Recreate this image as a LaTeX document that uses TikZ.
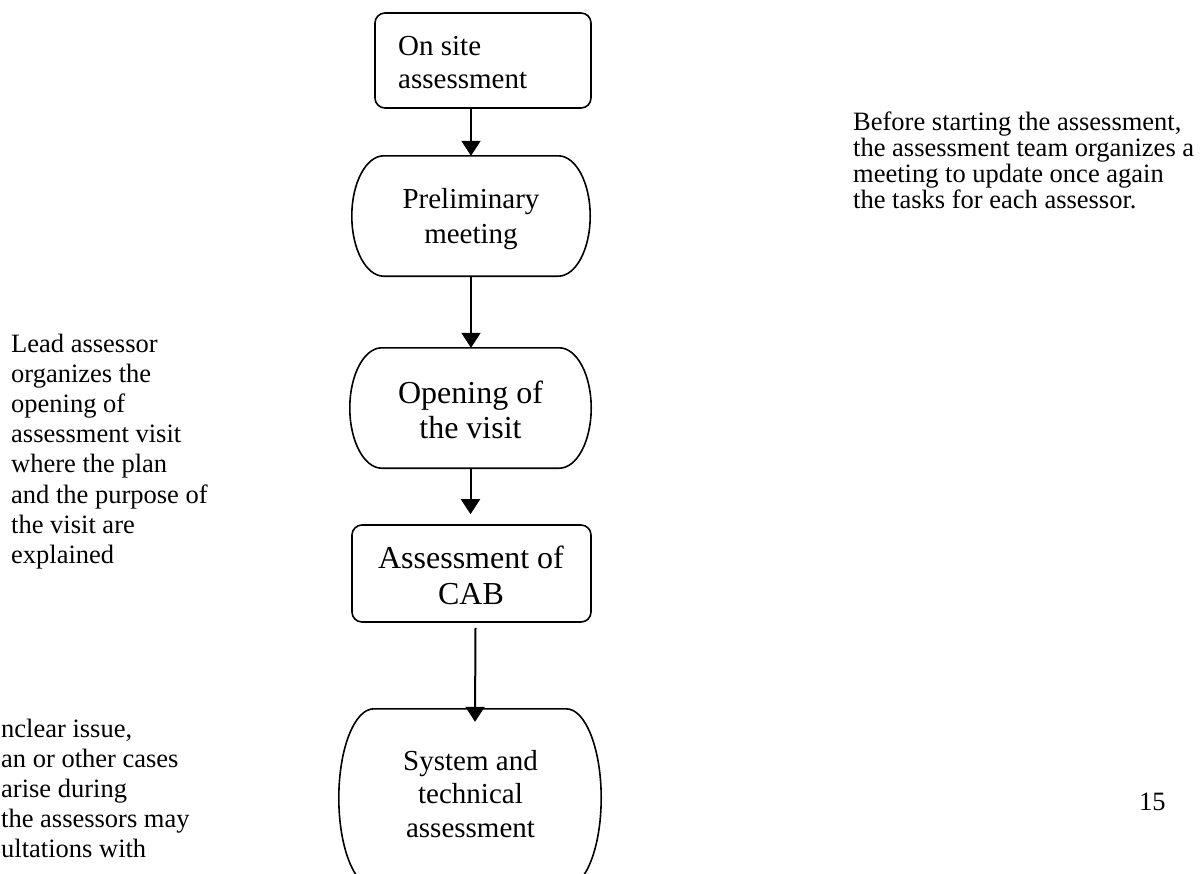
\documentclass[tikz,border=0pt]{standalone}
\usepackage{fontspec}
\setmainfont{Liberation Serif}
\usetikzlibrary{arrows.meta,calc}
\newcommand\txtblock[4]{{\fontsize{#2}{#3}\selectfont\begin{tabular}[t]{@{}#1@{}}#4\end{tabular}}}
\newcommand\ovalpath[2]{%
 \draw[shapeline] ([xshift=#2]#1.north west) -- ([xshift=-#2]#1.north east)
   .. controls ([xshift=-0.4477*#2]#1.north east) and ($(#1.east)!0.5523!(#1.north east)$) .. (#1.east)
   .. controls ($(#1.east)!0.5523!(#1.south east)$) and ([xshift=-0.4477*#2]#1.south east) .. ([xshift=-#2]#1.south east)
   -- ([xshift=#2]#1.south west)
   .. controls ([xshift=0.4477*#2]#1.south west) and ($(#1.west)!0.5523!(#1.south west)$) .. (#1.west)
   .. controls ($(#1.west)!0.5523!(#1.north west)$) and ([xshift=0.4477*#2]#1.north west) .. cycle;}
\begin{document}
\begin{tikzpicture}[x=1pt,y=-1pt,
  shapeline/.style={line width=1.6pt},
  rbox/.style={draw, line width=1.6pt, rounded corners=10pt, inner sep=0pt},
  obox/.style={inner sep=0pt},
  lbl/.style={inner sep=0pt},
  arr/.style={line width=2pt, -{Triangle[length=15pt,width=19pt]}}]
\useasboundingbox (0,0) rectangle (1204,873);
\clip (0,0) rectangle (1204,873);
% shapes
\node[rbox, minimum width=216pt, minimum height=95pt] (n1) at (483,60.5) {};
\node[obox, minimum width=238pt, minimum height=120pt] (n2) at (471,216) {};
\node[obox, minimum width=241pt, minimum height=120pt] (n3) at (470.5,408) {};
\node[rbox, minimum width=239pt, minimum height=97pt] (n4) at (471.5,573.5) {};
\node[obox, minimum width=262pt, minimum height=178pt] (n5) at (470,798) {};
\ovalpath{n2}{32pt}
\ovalpath{n3}{32pt}
\ovalpath{n5}{35pt}
% texts in shapes
\node[lbl, anchor=base west] (t1) at (398,55) {\txtblock{l}{29}{33}{On site\\assessment}};
\node[lbl, anchor=base] (t2) at (471,208) {\txtblock{c}{29}{35}{Preliminary\\meeting}};
\node[lbl, anchor=base] (t3) at (470.5,403) {\txtblock{c}{32}{35}{Opening of\\the visit}};
\node[lbl, anchor=base] (t4) at (471,568) {\txtblock{c}{32}{36}{Assessment of\\CAB}};
\node[lbl, anchor=base] (t5) at (470.5,770) {\txtblock{c}{29}{33.5}{System and\\technical\\assessment}};
% connectors
\coordinate (e3) at ([yshift=10pt]n4.north);
\coordinate (s4) at ([xshift=4pt,yshift=-5pt]n4.south);
\coordinate (e4) at ([xshift=5pt,yshift=-13pt]n5.north);
\draw[arr] (n2.north |- n1.south) -- (n2.north);
\draw[arr] (n2.south) -- (n2.south |- n3.north);
\draw[arr] (n3.south) -- (n3.south |- e3);
\draw[arr] (s4) -- (e4);
% notes
\node[lbl, anchor=base west] (noteR) at (853,130) {\txtblock{l}{26.5}{25.5}{Before starting the assessment,\\the assessment team organizes a\\meeting to update once again\\the tasks for each assessor.}};
\node[lbl, anchor=base west] (noteL) at (11,352) {\txtblock{l}{26.5}{30.2}{Lead assessor\\organizes the\\opening of\\assessment visit\\where the plan\\and the purpose of\\the visit are\\explained}};
\node[lbl, anchor=base west] (noteB) at (1,737) {\txtblock{l}{26.5}{30}{nclear issue,\\an or other cases\\arise during\\the assessors may\\ultations with}};
\node[lbl, anchor=base west] (pg) at (1139,810) {\fontsize{26.5}{30}\selectfont 15};
\end{tikzpicture}
\end{document}
